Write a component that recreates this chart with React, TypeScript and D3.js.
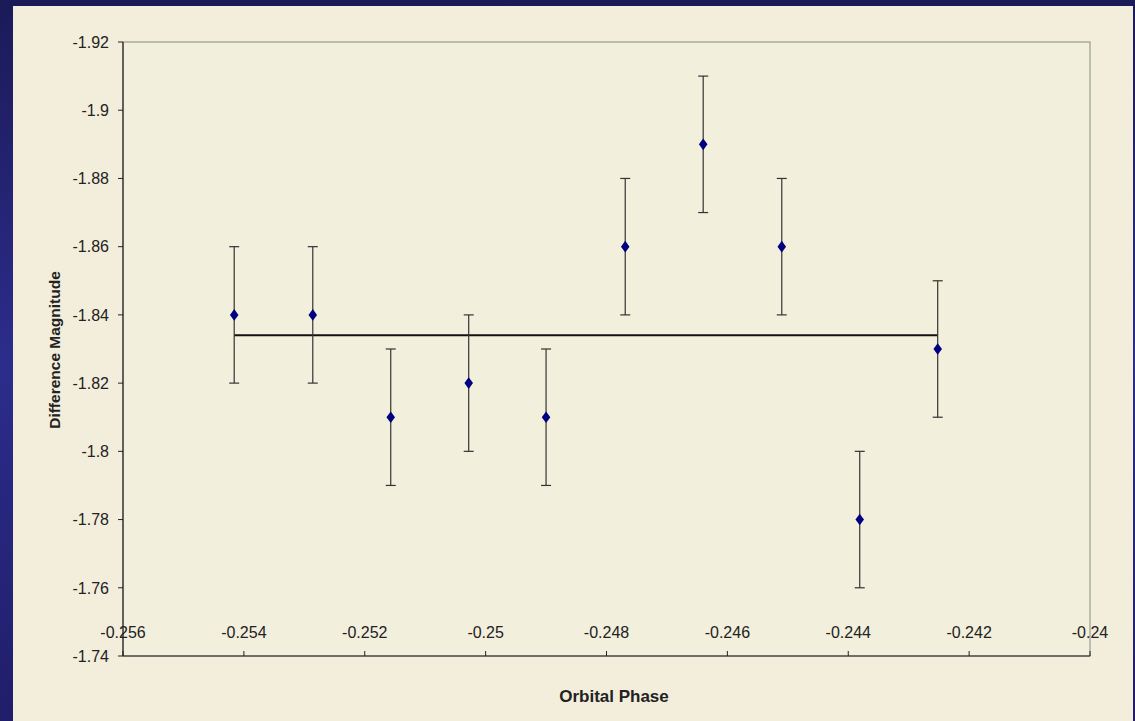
import React from "react";
import * as d3 from "d3";

const phases = [-0.25416, -0.25286, -0.25157, -0.25028, -0.249, -0.24769, -0.2464, -0.2451, -0.24381, -0.24252];
const magnitudes = [-1.84, -1.84, -1.81, -1.82, -1.81, -1.86, -1.89, -1.86, -1.78, -1.83];
const errors = [0.02, 0.02, 0.02, 0.02, 0.02, 0.02, 0.02, 0.02, 0.02, 0.02];
const meanMagnitude = -1.834;
const xTicks = [-0.256, -0.254, -0.252, -0.25, -0.248, -0.246, -0.244, -0.242, -0.24];
const yTicks = [-1.92, -1.9, -1.88, -1.86, -1.84, -1.82, -1.8, -1.78, -1.76, -1.74];

const W = 1135, H = 721;
const L = 123, R = 1090, T = 42, B = 656;

export default function App() {
  const x = d3.scaleLinear().domain([-0.256, -0.24]).range([L, R]);
  const y = d3.scaleLinear().domain([-1.92, -1.74]).range([T, B]);
  const font = "Liberation Sans, Arial, sans-serif";
  const diamond = d3.symbol().type(d3.symbolDiamond).size(48)() as string;
  const fmt = (v: number) => String(+v.toFixed(3));
  const line = d3.line<number>().x((d) => d).y(() => y(meanMagnitude));
  return (
    <svg width={W} height={H} style={{ position: "absolute", left: 0, top: 0 }}>
      <defs>
        <linearGradient id="bg" x1="0" y1="0" x2="0" y2="1">
          <stop offset="0" stopColor="#1b1a58" />
          <stop offset="0.5" stopColor="#2c2c8c" />
          <stop offset="1" stopColor="#201e6a" />
        </linearGradient>
      </defs>
      <rect x={0} y={0} width={W} height={H} fill="url(#bg)" />
      <rect x={13} y={6} width={1120} height={H - 6} fill="#f3eedb" />
      <rect x={L} y={T} width={R - L} height={B - T} fill="#f3efdd" stroke="#8a8a80" strokeWidth={1} />
      <line x1={L} y1={T} x2={L} y2={B} stroke="#222" strokeWidth={1.2} />
      <line x1={L} y1={B} x2={R} y2={B} stroke="#222" strokeWidth={1.2} />
      {yTicks.map((t) => (
        <g key={t}>
          <line x1={L - 5} x2={L} y1={y(t)} y2={y(t)} stroke="#222" />
          <text x={L - 14} y={y(t)} dy="0.36em" textAnchor="end" fontFamily={font} fontSize={16} fill="#222">
            {fmt(t)}
          </text>
        </g>
      ))}
      {xTicks.map((t) => (
        <g key={t}>
          <line x1={x(t)} x2={x(t)} y1={B - 5} y2={B} stroke="#222" />
          <text x={x(t)} y={638} textAnchor="middle" fontFamily={font} fontSize={16} fill="#222">
            {fmt(t)}
          </text>
        </g>
      ))}
      <path d={line([x(phases[0]), x(phases[phases.length - 1])]) || ""} stroke="#111" strokeWidth={2} fill="none" />
      {phases.map((p, i) => {
        const cx = x(p);
        const y1 = y(magnitudes[i] - errors[i]);
        const y2 = y(magnitudes[i] + errors[i]);
        return (
          <g key={i} stroke="#333" strokeWidth={1.2}>
            <line x1={cx} x2={cx} y1={y1} y2={y2} />
            <line x1={cx - 5} x2={cx + 5} y1={y1} y2={y1} />
            <line x1={cx - 5} x2={cx + 5} y1={y2} y2={y2} />
          </g>
        );
      })}
      {phases.map((p, i) => (
        <path key={i} d={diamond} transform={`translate(${x(p)},${y(magnitudes[i])}) scale(1.15,0.9)`} fill="#000080" />
      ))}
      <text x={614} y={702} textAnchor="middle" fontFamily={font} fontSize={17} fontWeight="bold" fill="#222">
        Orbital Phase
      </text>
      <text
        transform={`translate(60,350) rotate(-90)`}
        textAnchor="middle"
        fontFamily={font}
        fontSize={15.5}
        fontWeight="bold"
        fill="#222"
      >
        Difference Magnitude
      </text>
    </svg>
  );
}
